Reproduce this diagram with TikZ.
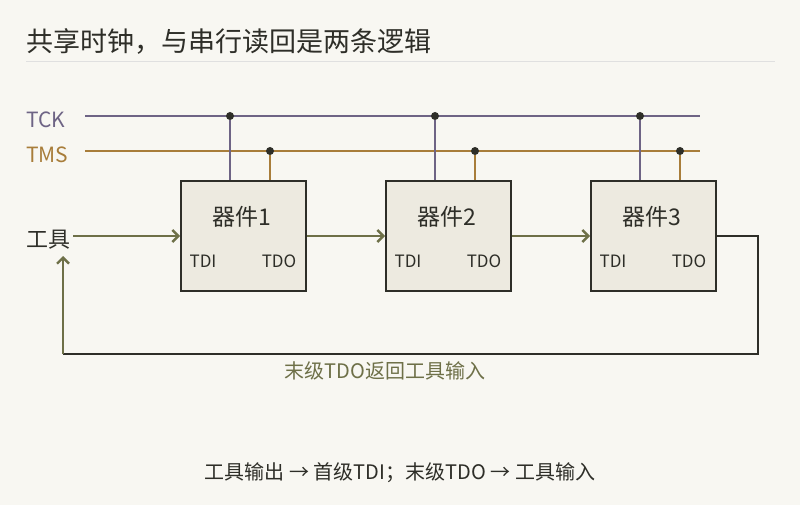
\documentclass[tikz,border=0pt]{standalone}
\usepackage{fontspec}
\setmainfont{Noto Sans CJK SC}
\usetikzlibrary{arrows.meta}
\definecolor{bg}{HTML}{F8F7F2}
\definecolor{boxfill}{HTML}{EDEAE0}
\definecolor{ink}{HTML}{2E2E28}
\definecolor{tck}{HTML}{6E6485}
\definecolor{tms}{HTML}{A87D3A}
\definecolor{tdi}{HTML}{6E7048}
\tikzset{
  dev/.style={draw=ink, fill=boxfill, line width=2pt, minimum width=125pt, minimum height=110pt, inner sep=0pt},
  lbl/.style={font=\fontsize{17}{20}\selectfont, text=ink, inner sep=0pt},
  sig/.style={line width=2.4pt, color=tdi, -{Straight Barb[length=6pt,width=12pt]}},
  dot/.style={circle, fill=ink, inner sep=0pt, minimum size=8pt}
}
\begin{document}
\begin{tikzpicture}[x=1pt, y=-1pt]
  \fill[bg] (0,0) rectangle (800,505);
  \useasboundingbox (0,0) rectangle (800,505);
  \node[anchor=west, font=\fontsize{27}{30}\selectfont, text=ink, inner sep=0pt] (title) at (26,42) {共享时钟，与串行读回是两条逻辑};
  \draw[color=black!12, line width=1pt] (26,62) -- (775,62);
  % buses
  \node[anchor=west, text=tck, font=\fontsize{21}{24}\selectfont, inner sep=0pt] (tcklbl) at (26,120) {TCK};
  \node[anchor=west, text=tms, font=\fontsize{21}{24}\selectfont, inner sep=0pt] (tmslbl) at (26,155) {TMS};
  \coordinate (tcka) at (85,116);
  \coordinate (tckb) at (700,116);
  \coordinate (tmsa) at (85,151);
  \coordinate (tmsb) at (700,151);
  \draw[tck, line width=2pt] (tcka) -- (tckb);
  \draw[tms, line width=2pt] (tmsa) -- (tmsb);
  % devices
  \foreach \i/\x in {1/180, 2/385, 3/590} {
    \node[dev, anchor=north west] (d\i) at (\x,180) {};
    \node[font=\fontsize{23}{26}\selectfont, text=ink] (n\i) at (\x+62,217) {器件\i};
    \node[lbl] (i\i) at (\x+23,261) {TDI};
    \node[lbl] (o\i) at (\x+99,261) {TDO};
    \node[dot] (c\i) at (\x+50,116) {};
    \node[dot] (m\i) at (\x+90,151) {};
    \draw[tck, line width=2pt] (c\i) -- (c\i |- d\i.north);
    \draw[tms, line width=2pt] (m\i) -- (m\i |- d\i.north);
  }
  % chain
  \node[anchor=west, font=\fontsize{22}{25}\selectfont, text=ink, inner sep=0pt] (tool) at (26,240) {工具};
  \draw[sig] (73,236) -- (d1.west);
  \draw[sig] (d1.east) -- (d2.west);
  \draw[sig] (d2.east) -- (d3.west);
  % return
  \coordinate (r1) at (758,236);
  \coordinate (r2) at (758,354);
  \coordinate (r3) at (63,354);
  \draw[ink, line width=2pt] (d3.east) -- (r1) -- (r2) -- (r3);
  \draw[sig] (r3) -- (63,256);
  \node[text=tdi, font=\fontsize{20}{23}\selectfont] (ret) at (385,371) {末级TDO返回工具输入};
  \node[text=ink, font=\fontsize{20}{23}\selectfont] (note) at (400,473) {工具输出 → 首级TDI；末级TDO → 工具输入};
\end{tikzpicture}
\end{document}
